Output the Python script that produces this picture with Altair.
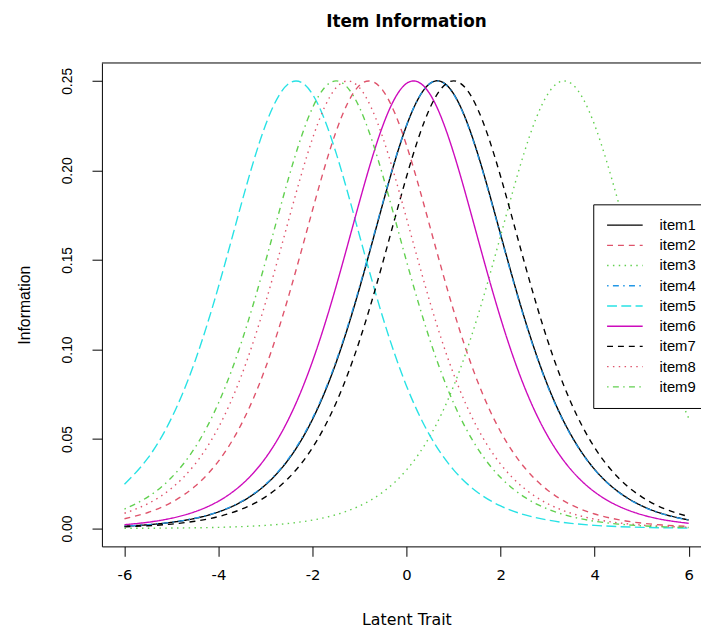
import altair as alt
import pandas as pd

theta = [-6.0, -5.5, -5.0, -4.5, -4.0, -3.5, -3.0, -2.5, -2.0, -1.5, -1.0, -0.5,
         0.0, 0.5, 1.0, 1.5, 2.0, 2.5, 3.0, 3.5, 4.0, 4.5, 5.0, 5.5, 6.0]

item1 = [0.00127, 0.00209, 0.00344, 0.00565, 0.00926, 0.01509, 0.02440, 0.03895, 0.06100,
         0.09260, 0.13430, 0.18200, 0.22510, 0.24860, 0.24280, 0.21040, 0.16420, 0.11810,
         0.08000, 0.05210, 0.03300, 0.02060, 0.01270, 0.00780, 0.00475]
item2 = [0.00546, 0.00893, 0.01456, 0.02355, 0.03763, 0.05901, 0.08980, 0.13060, 0.17790,
         0.22171, 0.24750, 0.24446, 0.21391, 0.16830, 0.12173, 0.08282, 0.05404, 0.03431,
         0.02140, 0.01321, 0.00810, 0.00494, 0.00301, 0.00183, 0.00111]
item3 = [0.00009, 0.00014, 0.00024, 0.00039, 0.00064, 0.00106, 0.00174, 0.00286, 0.00470,
         0.00771, 0.01258, 0.02040, 0.03275, 0.05169, 0.07949, 0.11741, 0.16349, 0.20977,
         0.24250, 0.24860, 0.22535, 0.18265, 0.13515, 0.09345, 0.06163]
item4 = [0.00129, 0.00212, 0.00349, 0.00573, 0.00938, 0.01528, 0.02469, 0.03940, 0.06163,
         0.09345, 0.13515, 0.18265, 0.22535, 0.24860, 0.24250, 0.20977, 0.16349, 0.11741,
         0.07949, 0.05169, 0.03275, 0.02040, 0.01258, 0.00771, 0.00470]
item5 = [0.02469, 0.03940, 0.06163, 0.09345, 0.13515, 0.18265, 0.22535, 0.24860, 0.24250,
         0.20977, 0.16349, 0.11741, 0.07949, 0.05169, 0.03275, 0.02040, 0.01258, 0.00771,
         0.00470, 0.00286, 0.00174, 0.00106, 0.00064, 0.00039, 0.00024]
item6 = [0.00212, 0.00349, 0.00573, 0.00938, 0.01528, 0.02469, 0.03940, 0.06163, 0.09345,
         0.13515, 0.18265, 0.22535, 0.24860, 0.24250, 0.20977, 0.16349, 0.11741, 0.07949,
         0.05169, 0.03275, 0.02040, 0.01258, 0.00771, 0.00470, 0.00286]
item7 = [0.00091, 0.00150, 0.00247, 0.00405, 0.00665, 0.01087, 0.01766, 0.02845, 0.04518,
         0.07010, 0.10499, 0.14915, 0.19661, 0.23500, 0.25000, 0.23500, 0.19661, 0.14915,
         0.10499, 0.07010, 0.04518, 0.02845, 0.01766, 0.01087, 0.00665]
item8 = [0.00850, 0.01387, 0.02245, 0.03593, 0.05648, 0.08626, 0.12613, 0.17311, 0.21790,
         0.24613, 0.24613, 0.21790, 0.17311, 0.12613, 0.08626, 0.05648, 0.03593, 0.02245,
         0.01387, 0.00850, 0.00519, 0.00316, 0.00192, 0.00117, 0.00071]
item9 = [0.01087, 0.01766, 0.02845, 0.04518, 0.07010, 0.10499, 0.14915, 0.19661, 0.23500,
         0.25000, 0.23500, 0.19661, 0.14915, 0.10499, 0.07010, 0.04518, 0.02845, 0.01766,
         0.01087, 0.00665, 0.00405, 0.00247, 0.00150, 0.00091, 0.00055]

items = ["item1", "item2", "item3", "item4", "item5", "item6", "item7", "item8", "item9"]
series = [item1, item2, item3, item4, item5, item6, item7, item8, item9]
colors = ["black", "#DF536B", "#61D04F", "#2297E6", "#28E2E5", "#CD0BBC", "black", "#DF536B", "#61D04F"]
dashes = [[1, 0], [6, 5], [1.5, 4.4], [1.5, 4.4, 6, 4.4], [10, 4.4],
          [1, 0], [6, 5], [1.5, 4.4], [1.5, 4.4, 6, 4.4]]
x_ticks = [-6, -4, -2, 0, 2, 4, 6]
y_ticks = [0.0, 0.05, 0.10, 0.15, 0.20, 0.25]

rows = []
for name, vals in zip(items, series):
    for t, v in zip(theta, vals):
        rows.append({"theta": t, "info": v, "item": name})
df = pd.DataFrame(rows)

legend = alt.Legend(
    title=None, orient="none", legendX=497, legendY=143, direction="vertical",
    symbolType="stroke", symbolSize=1296, symbolStrokeWidth=1.4,
    clipHeight=16, rowPadding=4.45, padding=13, labelOffset=16,
    labelFont="Liberation Sans", labelFontSize=15, labelColor="black",
    strokeColor="black", fillColor="white",
)

lines = alt.Chart(df).mark_line(interpolate="natural", strokeWidth=1.4, clip=True).encode(
    x=alt.X("theta:Q",
            scale=alt.Scale(domain=[-6.48, 6.262], nice=False, zero=False),
            axis=alt.Axis(values=x_ticks, labelExpr="'' + datum.value", tickSize=10,
                          tickColor="black", domainColor="black", grid=False,
                          labelFont="DejaVu Sans", labelFontSize=15, labelColor="black",
                          labelBaseline="middle", labelPadding=19, labelFlush=False,
                          labelOverlap=False,
                          title="Latent Trait", titleFont="DejaVu Sans", titleFontSize=16,
                          titleFontWeight="normal", titleColor="black",
                          titleX=308, titleY=74, titleAlign="center", titleBaseline="middle")),
    y=alt.Y("info:Q",
            scale=alt.Scale(domain=[-0.01, 0.26], nice=False, zero=False),
            axis=alt.Axis(values=y_ticks, format=".2f", tickSize=10,
                          tickColor="black", domainColor="black", grid=False,
                          labelAngle=270, labelAlign="center", labelBaseline="middle",
                          labelPadding=25, labelFont="Liberation Sans", labelFontSize=14,
                          labelColor="black", labelFlush=False, labelOverlap=False,
                          title="Information", titleFont="Liberation Sans", titleFontSize=16,
                          titleFontWeight="normal", titleColor="black", titleAngle=270,
                          titleX=-78, titleY=244.5, titleAlign="center", titleBaseline="middle")),
    color=alt.Color("item:N", scale=alt.Scale(domain=items, range=colors), legend=legend),
    strokeDash=alt.StrokeDash("item:N", scale=alt.Scale(domain=items, range=dashes), legend=legend),
)

frame_top = alt.Chart(pd.DataFrame({"k": [0]})).mark_rule(color="black", strokeWidth=1).encode(
    y=alt.value(0)
)

chart = alt.layer(lines, frame_top).properties(
    width=606, height=489,
    autosize=alt.AutoSizeParams(type="none"),
    padding={"left": 95, "top": 52, "right": 0, "bottom": 84},
    title=alt.TitleParams("Item Information", font="DejaVu Sans", fontSize=17,
                          fontWeight="bold", color="black", anchor="middle",
                          offset=19, dx=5, frame="group", baseline="alphabetic"),
).configure_view(stroke=None)

chart.save("out.html", embed_options={"renderer": "svg", "actions": False})
